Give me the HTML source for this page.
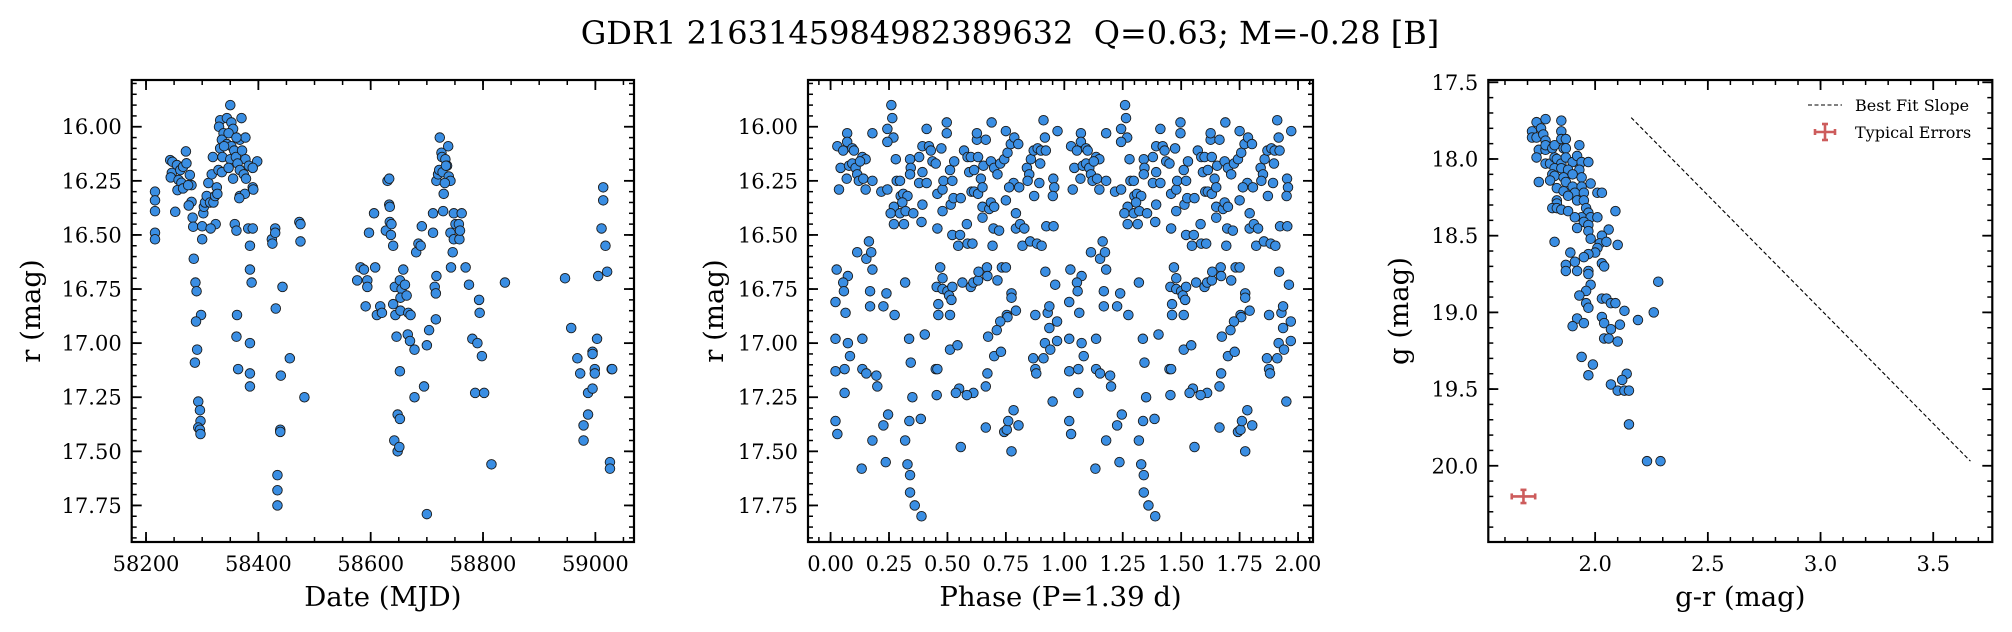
<!DOCTYPE html>
<html><head><meta charset="utf-8">
<style>
html,body{margin:0;padding:0;background:#fff;}
svg{display:block;font-family:"DejaVu Serif","Liberation Serif",serif;}
</style></head>
<body>
<svg id="fig" width="2012" height="632" viewBox="0 0 2012 632" xmlns="http://www.w3.org/2000/svg">
<rect width="2012" height="632" fill="#fff"/>
<text x="1010" y="44" font-size="32" text-anchor="middle">GDR1 2163145984982389632&#160; Q=0.63; M=-0.28 [B]</text>
</svg>
<script>
// ---- Panel 1: light curve ----
const dates = [58216,58216,58216,58216,58216,
58243,58247,58255,58246,58261,58244,58266,58272,58258,58278,58271,58263,58256,58281,58266,58275,58281,58252,58276,58283,58284,
58285,58288,58290,58298,58289,58291,58287,58293,58296,58297,58293,58296,58297,58300,58300,
58302,58303,58305,58308,58311,58314,58317,58319,58320,58323,58326,58327,58324,58315,
58332,58330,58338,58335,58332,58336,58344,58350,58352,58355,58344,58352,58357,58350,58360,58367,58370,58377,58371,58377,58383,58398,58329,58335,58347,58355,58363,58367,58374,58378,58367,58376,58390,58391,58366,58390,58339,58347,58361,
58358,58361,58382,58390,58385,58385,58388,58362,58361,58364,58385,58385,58385,
58424,58425,58430,58430,58443,58431,58456,58440,58439,58439,58473,58475,58475,58482,58434,58434,58434,
58576,58582,58588,58594,58594,58591,58597,58606,58608,58611,58617,58620,58630,58633,58627,58633,58634,58634,58637,58636,58640,58640,58644,58646,58643,58652,58655,58658,58653,58661,58664,58653,58667,58671,58652,58666,58670,58678,58681,58685,58689,58678,58691,58700,58704,58695,58711,58711,58714,58716,58717,58716,58717,58720,58723,58726,58727,58722,58728,58730,58729,58733,58736,58738,58739,58742,58732,58734,58742,58743,58746,58748,58751,58757,58758,58759,58748,58762,58769,58775,58781,58790,58793,58794,58798,58786,58802,58839,
58642,58648,58651,58648,58652,58700,58815,
58946,58957,58968,58973,58979,58979,58987,58987,58995,58995,58995,58999,58999,59003,59005,59011,59014,59014,59018,59021,59029,59030,59026,59026];
const mags = [16.30,16.34,16.39,16.49,16.52,
16.154,16.162,16.177,16.213,16.200,16.234,16.185,16.169,16.246,16.223,16.114,16.259,16.293,16.270,16.285,16.27,16.347,16.393,16.364,16.42,16.462,
16.61,16.72,16.76,16.87,16.90,17.03,17.09,17.27,17.31,17.36,17.39,17.40,17.42,16.52,16.46,
16.40,16.37,16.35,16.32,16.26,16.35,16.22,16.14,16.35,16.32,16.28,16.31,16.45,16.47,
15.97,16.00,16.03,16.06,16.10,16.14,15.96,15.90,15.98,16.01,16.08,16.09,16.11,16.15,16.14,16.06,15.96,16.05,16.11,16.15,16.18,16.16,16.20,16.21,16.19,16.24,16.17,16.20,16.22,16.24,16.32,16.31,16.28,16.29,16.33,16.19,16.09,16.03,16.05,
16.45,16.48,16.47,16.47,16.55,16.66,16.72,16.87,16.97,17.12,17.00,17.14,17.20,
16.52,16.54,16.47,16.49,16.74,16.84,17.07,17.15,17.40,17.41,16.44,16.45,16.53,17.25,17.61,17.68,17.75,
16.71,16.65,16.66,16.71,16.74,16.83,16.49,16.40,16.65,16.87,16.83,16.86,16.25,16.24,16.48,16.36,16.37,16.44,16.45,16.50,16.55,16.82,16.87,16.97,16.74,16.71,16.75,16.66,16.79,16.73,16.78,16.85,16.86,16.87,17.13,16.96,16.99,17.03,16.58,16.54,16.55,17.25,16.46,17.01,16.94,17.20,16.40,16.49,16.74,16.77,16.69,16.89,16.25,16.22,16.05,16.12,16.14,16.20,16.21,16.31,16.39,16.15,16.18,16.09,16.23,16.25,16.26,16.18,16.49,16.65,16.58,16.52,16.45,16.45,16.52,16.48,16.40,16.40,16.65,16.73,16.98,17.00,16.80,16.86,17.06,17.23,17.23,16.72,
17.45,17.50,17.48,17.33,17.35,17.79,17.56,
16.70,16.93,17.07,17.14,17.45,17.38,17.33,17.23,17.21,17.04,17.05,17.12,17.14,16.98,16.69,16.47,16.28,16.34,16.55,16.67,17.12,17.12,17.55,17.58];
const p1XTicks = [58200,58400,58600,58800,59000];
const p1XTickLabels = ["58200","58400","58600","58800","59000"];
const rYTicks = [16.00,16.25,16.50,16.75,17.00,17.25,17.50,17.75];
const rYTickLabels = ["16.00","16.25","16.50","16.75","17.00","17.25","17.50","17.75"];

// ---- Panel 2: phase-folded (one period; drawn twice) ----
const phases = [0.26,0.264,0.269,0.243,0.243,0.179,0.071,0.071,0.029,0.054,0.093,0.10,0.043,0.079,0.093,0.107,0.114,0.121,0.136,0.15,0.126,0.14,0.15,0.179,0.069,0.036,0.217,0.243,0.279,0.283,0.297,0.271,0.30,0.311,0.329,0.307,0.257,0.297,0.321,0.354,0.271,0.314,0.34,0.343,0.34,0.379,0.393,0.411,0.421,0.429,0.436,0.45,0.393,0.379,0.411,0.393,0.389,0.474,0.497,0.497,0.457,0.457,0.479,0.479,0.483,0.511,0.521,0.529,0.514,0.526,0.557,0.571,0.586,0.60,0.593,0.614,0.626,0.626,0.664,0.631,0.603,0.614,0.631,0.643,0.65,0.654,0.65,0.65,0.679,0.686,0.70,0.686,0.689,0.70,0.714,0.726,0.743,0.75,0.757,0.771,0.786,0.803,0.783,0.807,0.764,0.75,0.697,0.721,0.693,0.793,0.793,0.811,0.829,0.821,0.84,0.85,0.857,0.869,0.886,0.90,0.911,0.921,0.917,0.897,0.893,0.871,0.843,0.953,0.957,0.951,0.971,0.923,0.954,0.854,0.883,0.903,0.586,0.607,0.546,0.521,0.554,0.583,
0.026,0.074,0.054,0.057,0.021,0.064,0.114,0.153,0.174,0.164,0.179,0.169,0.169,0.226,0.239,0.274,0.319,0.469,0.479,0.454,0.479,0.50,0.521,0.507,0.517,0.461,0.461,0.511,0.564,0.60,0.611,0.631,0.633,0.669,0.671,0.714,0.733,0.75,0.774,0.774,0.793,0.754,0.757,0.726,0.711,0.674,0.919,0.961,0.876,0.929,0.936,0.969,0.936,0.969,0.917,0.94,0.911,0.867,0.876,0.88,0.70,0.729,0.671,0.664,0.611,0.583,0.55,0.536,0.511,0.543,0.45,0.457,0.454,0.403,0.336,0.343,0.35,0.136,0.074,0.083,0.021,0.021,0.06,0.136,0.153,0.196,0.20,0.06,0.021,0.029,0.246,0.226,0.179,0.133,0.236,0.319,0.337,0.386,0.329,0.34,0.34,0.36,0.389,0.557,0.664,0.743,0.754,0.76,0.783,0.804,0.774,0.95];
const pmags = [15.90,15.96,16.05,16.01,16.07,16.03,16.03,16.07,16.09,16.11,16.10,16.11,16.19,16.18,16.17,16.19,16.22,16.25,16.14,16.15,16.16,16.24,16.29,16.25,16.24,16.29,16.30,16.29,16.15,16.25,16.25,16.37,16.32,16.31,16.32,16.35,16.40,16.40,16.39,16.40,16.45,16.45,16.15,16.19,16.22,16.14,16.09,16.01,16.09,16.11,16.16,16.17,16.21,16.26,16.26,16.36,16.44,16.10,15.98,16.03,16.47,16.31,16.29,16.39,16.25,16.20,16.25,16.16,16.36,16.33,16.33,16.11,16.14,16.14,16.21,16.20,16.06,16.03,16.06,16.14,16.30,16.30,16.31,16.24,16.28,16.18,16.37,16.42,16.38,16.35,16.37,16.16,15.98,16.19,16.22,16.17,16.15,16.02,16.12,16.08,16.05,16.08,16.26,16.28,16.28,16.34,16.47,16.48,16.55,16.40,16.47,16.45,16.47,16.55,16.19,16.22,16.15,16.11,16.10,16.11,15.97,16.11,16.05,16.17,16.26,16.32,16.25,16.24,16.28,16.32,16.02,16.46,16.46,16.53,16.54,16.55,16.54,16.54,16.55,16.50,16.50,16.45,
16.66,16.69,16.72,16.76,16.81,16.86,16.58,16.61,16.58,16.53,16.66,16.76,16.83,16.83,16.77,16.87,16.72,16.65,16.70,16.74,16.75,16.76,16.74,16.78,16.80,16.82,16.87,16.87,16.72,16.74,16.72,16.71,16.67,16.65,16.69,16.71,16.65,16.65,16.77,16.79,16.85,16.87,16.88,16.90,16.94,16.97,16.67,16.73,16.87,16.86,16.83,16.90,16.93,16.99,17.00,17.03,17.07,17.07,17.12,17.14,17.06,17.04,17.14,17.20,17.23,17.24,17.21,17.23,17.03,17.01,17.12,17.12,17.24,16.96,16.98,17.09,17.25,16.98,17.00,17.06,16.98,17.13,17.12,17.12,17.14,17.15,17.20,17.23,17.36,17.42,17.33,17.38,17.45,17.58,17.55,17.45,17.36,17.35,17.56,17.61,17.69,17.75,17.80,17.48,17.39,17.41,17.40,17.36,17.31,17.38,17.50,17.27];
const p2XTicks = [0,0.25,0.5,0.75,1.0,1.25,1.5,1.75,2.0];
const p2XTickLabels = ["0.00","0.25","0.50","0.75","1.00","1.25","1.50","1.75","2.00"];

// ---- Panel 3: colour-magnitude ----
const grVals = [1.72,1.74,1.78,1.76,1.72,1.74,1.77,1.78,1.75,1.74,1.78,1.78,1.81,1.82,1.85,1.85,1.85,1.87,1.93,1.86,1.87,1.78,1.80,1.82,1.83,1.85,1.87,1.90,1.92,1.94,1.97,1.82,1.85,1.88,1.93,1.81,1.82,1.86,1.90,1.94,1.75,1.80,1.87,1.90,1.94,1.98,1.83,1.86,1.91,1.95,2.01,2.03,1.88,1.92,1.95,1.83,1.83,1.81,1.83,1.85,1.88,1.96,1.97,1.94,1.91,1.98,2.01,2.09,1.95,1.97,1.97,1.92,1.98,2.06,2.03,2.02,2.05,2.10,1.82,2.01,2.00,1.97,1.95,1.89,1.91,1.87,1.87,1.92,1.97,1.97,2.03,2.04,2.28,1.98,1.96,1.93,2.03,2.05,2.07,2.09,1.96,1.97,2.13,2.26,2.03,2.04,2.19,1.92,1.90,1.95,2.11,2.07,2.04,2.06,2.10,1.94,1.99,1.97,2.14,2.12,2.07,2.10,2.13,2.15,2.15,2.23,2.29];
const gVals = [17.82,17.76,17.74,17.80,17.86,17.86,17.84,17.88,17.94,17.99,17.94,17.91,17.93,17.91,17.75,17.82,17.87,17.87,17.91,17.93,17.93,18.03,18.03,17.99,18.00,18.03,17.99,18.02,17.98,18.02,18.02,18.06,18.06,18.07,18.07,18.10,18.11,18.12,18.10,18.12,18.15,18.14,18.15,18.18,18.18,18.16,18.19,18.21,18.22,18.22,18.22,18.22,18.24,18.27,18.27,18.27,18.29,18.32,18.32,18.33,18.34,18.32,18.35,18.38,18.38,18.38,18.38,18.34,18.41,18.43,18.47,18.45,18.52,18.46,18.50,18.55,18.54,18.56,18.54,18.58,18.61,18.62,18.64,18.61,18.67,18.69,18.73,18.73,18.73,18.75,18.68,18.70,18.80,18.82,18.86,18.89,18.91,18.91,18.94,18.94,18.94,18.97,18.99,19.00,19.03,19.07,19.05,19.04,19.09,19.07,19.08,19.11,19.17,19.17,19.19,19.29,19.34,19.41,19.40,19.44,19.47,19.51,19.51,19.51,19.73,19.97,19.97];
const fitLineX = [2.16,3.665];
const fitLineY = [17.73,19.97];
const errCenter = [1.682,20.20];
const errSize = [0.052,0.043];
const p3XTicks = [2.0,2.5,3.0,3.5];
const p3XTickLabels = ["2.0","2.5","3.0","3.5"];
const p3YTicks = [17.5,18.0,18.5,19.0,19.5,20.0];
const p3YTickLabels = ["17.5","18.0","18.5","19.0","19.5","20.0"];

const NS = "http://www.w3.org/2000/svg";
const fig = document.getElementById('fig');
function mk(tag, attrs, parent){
  const e = document.createElementNS(NS, tag);
  for (const k in attrs) e.setAttribute(k, attrs[k]);
  (parent||fig).appendChild(e);
  return e;
}
function makeAxes(x0,x1,y0,y1,xd,yd){
  return {
    x: v => x0 + (v - xd[0]) / (xd[1] - xd[0]) * (x1 - x0),
    y: v => y0 + (v - yd[0]) / (yd[1] - yd[0]) * (y1 - y0),
    x0,x1,y0,y1,xd,yd
  };
}
function drawFrame(ax, name, xMajor, xMajorLab, xMinorStep, yMajor, yMajorLab, yMinorStep, xlabel, ylabel, ylabelX){
  const g = mk('g', {});
  
  
  const eps = 1e-9;
  const xs = Math.ceil(ax.xd[0]/xMinorStep - eps);
  for (let i = xs; i*xMinorStep <= ax.xd[1] + eps; i++){
    const v = i*xMinorStep, px = ax.x(v);
    mk('line',{x1:px,x2:px,y1:ax.y1,y2:ax.y1-5,stroke:'#000','stroke-width':1.5},g);
    mk('line',{x1:px,x2:px,y1:ax.y0,y2:ax.y0+5,stroke:'#000','stroke-width':1.5},g);
  }
  const ys = Math.ceil(ax.yd[0]/yMinorStep - eps);
  for (let i = ys; i*yMinorStep <= ax.yd[1] + eps; i++){
    const v = i*yMinorStep, py = ax.y(v);
    mk('line',{x1:ax.x0,x2:ax.x0+5,y1:py,y2:py,stroke:'#000','stroke-width':1.5},g);
    mk('line',{x1:ax.x1,x2:ax.x1-5,y1:py,y2:py,stroke:'#000','stroke-width':1.5},g);
  }
  xMajor.forEach((v,i)=>{
    const px = ax.x(v);
    mk('line',{x1:px,x2:px,y1:ax.y1,y2:ax.y1-10,stroke:'#000','stroke-width':1.8},g);
    mk('line',{x1:px,x2:px,y1:ax.y0,y2:ax.y0+10,stroke:'#000','stroke-width':1.8},g);
    const t = mk('text',{x:px,y:ax.y1+29,'font-size':21,'text-anchor':'middle'},g);
    
    
    t.textContent = xMajorLab[i];
  });
  yMajor.forEach((v,i)=>{
    const py = ax.y(v);
    mk('line',{x1:ax.x0,x2:ax.x0+10,y1:py,y2:py,stroke:'#000','stroke-width':1.8},g);
    mk('line',{x1:ax.x1,x2:ax.x1-10,y1:py,y2:py,stroke:'#000','stroke-width':1.8},g);
    const t = mk('text',{x:ax.x0-10,y:py+7.5,'font-size':21,'text-anchor':'end'},g);
    
    
    t.textContent = yMajorLab[i];
  });
  mk('rect',{x:ax.x0,y:ax.y0,width:ax.x1-ax.x0,height:ax.y1-ax.y0,fill:'none',stroke:'#000','stroke-width':2.2},g);
  const xl = mk('text',{x:(ax.x0+ax.x1)/2,y:606,'font-size':27.5,'text-anchor':'middle'},g);
  
  
  xl.textContent = xlabel;
  const cy = (ax.y0+ax.y1)/2;
  const yl = mk('text',{x:ylabelX,y:cy,'font-size':27.5,'text-anchor':'middle',transform:`rotate(-90 ${ylabelX} ${cy})`},g);
  
  
  yl.textContent = ylabel;
}
function dot(parent, cx, cy){
  const c = mk('circle',{cx:cx,cy:cy,r:4.8,fill:'#3a8ee3',stroke:'#1a1a1a','stroke-width':0.9},parent);
  
  
}

// Panel 1
const ax1 = makeAxes(131.7,634,80,542,[58174.5,59068.8],[15.784,17.919]);
const g1 = mk('g',{});


dates.forEach((d,i)=>dot(g1, ax1.x(d), ax1.y(mags[i])));
drawFrame(ax1,'light-curve',p1XTicks,p1XTickLabels,50,rYTicks,rYTickLabels,0.05,'Date (MJD)','r (mag)',40);

// Panel 2
const ax2 = makeAxes(808,1313,80,542,[-0.0966,2.0640],[15.784,17.919]);
const g2 = mk('g',{});


phases.forEach((p,i)=>{ dot(g2, ax2.x(p), ax2.y(pmags[i])); dot(g2, ax2.x(p+1), ax2.y(pmags[i])); });
drawFrame(ax2,'phase-plot',p2XTicks,p2XTickLabels,0.05,rYTicks,rYTickLabels,0.05,'Phase (P=1.39 d)','r (mag)',723);

// Panel 3
const ax3 = makeAxes(1488.3,1992.3,80,542,[1.526,3.762],[17.485,20.497]);
const g3 = mk('g',{});


grVals.forEach((v,i)=>dot(g3, ax3.x(v), ax3.y(gVals[i])));
const fl = mk('line',{x1:ax3.x(fitLineX[0]),y1:ax3.y(fitLineY[0]),x2:ax3.x(fitLineX[1]),y2:ax3.y(fitLineY[1]),stroke:'#000','stroke-width':1.1,'stroke-dasharray':'4,2.5'});


const eg = mk('g',{stroke:'#cd5c5c','stroke-width':2.6});


{
  const cx = ax3.x(errCenter[0]), cy = ax3.y(errCenter[1]);
  const ex1 = ax3.x(errCenter[0]-errSize[0]), ex2 = ax3.x(errCenter[0]+errSize[0]);
  const ey1 = ax3.y(errCenter[1]-errSize[1]), ey2 = ax3.y(errCenter[1]+errSize[1]);
  mk('line',{x1:ex1,x2:ex2,y1:cy,y2:cy},eg);
  mk('line',{x1:cx,x2:cx,y1:ey1,y2:ey2},eg);
  mk('line',{x1:ex1,x2:ex1,y1:cy-3,y2:cy+3},eg);
  mk('line',{x1:ex2,x2:ex2,y1:cy-3,y2:cy+3},eg);
  mk('line',{x1:cx-3,x2:cx+3,y1:ey1,y2:ey1},eg);
  mk('line',{x1:cx-3,x2:cx+3,y1:ey2,y2:ey2},eg);
}
drawFrame(ax3,'color-magnitude',p3XTicks,p3XTickLabels,0.1,p3YTicks,p3YTickLabels,0.1,'g-r (mag)','g (mag)',1408);

// Legend
const lg = mk('g',{});


const le1 = mk('g',{},lg);


mk('line',{x1:1808,x2:1842,y1:105,y2:105,stroke:'#000','stroke-width':1.1,'stroke-dasharray':'4,2.5'},le1);
const lt1 = mk('text',{x:1855,y:111,'font-size':16},le1);
lt1.textContent = 'Best Fit Slope';
const le2 = mk('g',{},lg);


const lge = mk('g',{stroke:'#cd5c5c','stroke-width':2.6},le2);
mk('line',{x1:1815,x2:1835,y1:132,y2:132},lge);
mk('line',{x1:1825,x2:1825,y1:124,y2:140},lge);
mk('line',{x1:1815,x2:1815,y1:129,y2:135},lge);
mk('line',{x1:1835,x2:1835,y1:129,y2:135},lge);
mk('line',{x1:1822,x2:1828,y1:124,y2:124},lge);
mk('line',{x1:1822,x2:1828,y1:140,y2:140},lge);
const lt2 = mk('text',{x:1855,y:138,'font-size':16},le2);
lt2.textContent = 'Typical Errors';
</script>
</body></html>
